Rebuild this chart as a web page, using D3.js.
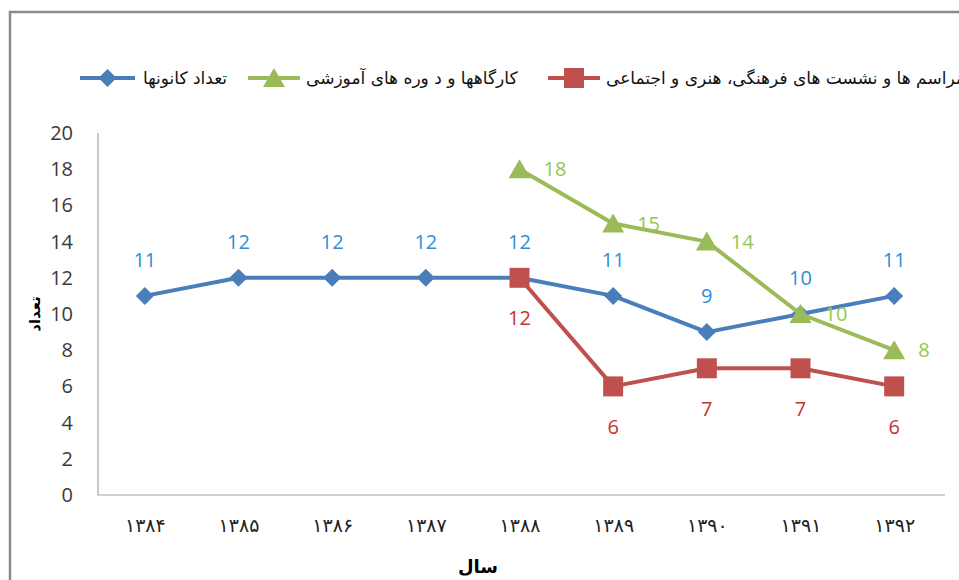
<!DOCTYPE html>
<html>
<head>
<meta charset="utf-8">
<script src="https://cdn.jsdelivr.net/npm/d3@7"></script>
<style>
  body { margin: 0; background: #fff; }
  svg { display: block; }
</style>
</head>
<body>
<svg id="chart" width="959" height="580"></svg>
<script>
  // سال ها و مقادیر
  var years = ["۱۳۸۴", "۱۳۸۵", "۱۳۸۶", "۱۳۸۷", "۱۳۸۸", "۱۳۸۹", "۱۳۹۰", "۱۳۹۱", "۱۳۹۲"];
  var centers = [11, 12, 12, 12, 12, 11, 9, 10, 11];
  var workshops = [null, null, null, null, 18, 15, 14, 10, 8];
  var ceremonies = [null, null, null, null, 12, 6, 7, 7, 6];
  var yTicks = [0, 2, 4, 6, 8, 10, 12, 14, 16, 18, 20];

  var seriesNames = [
    "تعداد کانونها",
    "کارگاهها و د وره های آموزشی",
    "مراسم ها و نشست های فرهنگی، هنری و اجتماعی"
  ];

  (function () {
    var series = [
      { name: seriesNames[0], values: centers, line: "#4A7EBB", label: "#2E8FD8", marker: "diamond", pos: "above" },
      { name: seriesNames[1], values: workshops, line: "#9BBB59", label: "#92C64E", marker: "triangle", pos: "right" },
      { name: seriesNames[2], values: ceremonies, line: "#C0504D", label: "#C9302C", marker: "square", pos: "below" }
    ];

    var svg = d3.select("#chart");
    var pLeft = 98, pRight = 941, pTop = 133, pBottom = 495;
    var faFont = "'DejaVu Sans', sans-serif";
    var numFont = "'Open Sans', 'Liberation Sans', sans-serif";

    // outer frame
    svg.append("rect")
      .attr("x", 10).attr("y", 12)
      .attr("width", 980).attr("height", 600)
      .attr("fill", "none")
      .attr("stroke", "#8a8a8a")
      .attr("stroke-width", 2.5);

    var x = d3.scalePoint().domain(years).range([pLeft, pRight]).padding(0.5);
    var y = d3.scaleLinear().domain([0, 20]).range([pBottom, pTop]);

    // plot area lines (left + bottom)
    svg.append("path")
      .attr("d", "M" + pLeft + "," + pTop + "V" + pBottom + "H" + (pRight + 4))
      .attr("fill", "none")
      .attr("stroke", "#a6a6a6")
      .attr("stroke-width", 1.2);

    // y axis labels
    var yAxis = d3.axisLeft(y).tickValues(yTicks).tickSize(0).tickPadding(25);
    var gy = svg.append("g").attr("transform", "translate(" + pLeft + ",0)").call(yAxis);
    gy.select(".domain").remove();
    gy.selectAll("text")
      .style("font-family", numFont)
      .style("font-size", "20px")
      .attr("fill", "#3a3a3a");

    // x axis labels
    var xAxis = d3.axisBottom(x).tickSize(0).tickPadding(24);
    var gx = svg.append("g").attr("transform", "translate(0," + pBottom + ")").call(xAxis);
    gx.select(".domain").remove();
    gx.selectAll("text")
      .style("font-family", faFont)
      .style("font-size", "19px")
      .attr("fill", "#222");

    // axis titles
    svg.append("text")
      .attr("x", 478).attr("y", 573)
      .attr("text-anchor", "middle")
      .style("font-family", faFont)
      .style("font-size", "18px")
      .style("font-weight", "bold")
      .text("سال");

    svg.append("text")
      .attr("transform", "translate(40,314) rotate(-90)")
      .attr("text-anchor", "middle")
      .style("font-family", faFont)
      .style("font-size", "15px")
      .style("font-weight", "bold")
      .text("تعداد");

    function markerPath(type, cx, cy) {
      if (type === "diamond") {
        var s = 9;
        return "M" + cx + "," + (cy - s) + "L" + (cx + s) + "," + cy + "L" + cx + "," + (cy + s) + "L" + (cx - s) + "," + cy + "Z";
      }
      if (type === "triangle") {
        return "M" + cx + "," + (cy - 10) + "L" + (cx + 11) + "," + (cy + 9) + "L" + (cx - 11) + "," + (cy + 9) + "Z";
      }
      return "M" + (cx - 10) + "," + (cy - 10) + "h20v20h-20Z";
    }

    var line = d3.line()
      .defined(function (d) { return d != null; })
      .x(function (d, i) { return x(years[i]); })
      .y(function (d) { return y(d); });

    series.forEach(function (s) {
      var g = svg.append("g");
      g.append("path")
        .attr("d", line(s.values))
        .attr("fill", "none")
        .attr("stroke", s.line)
        .attr("stroke-width", 4)
        .attr("stroke-linejoin", "round");

      var pts = s.values.map(function (v, i) { return { v: v, year: years[i] }; })
        .filter(function (d) { return d.v != null; });

      g.selectAll(".m").data(pts).enter().append("path")
        .attr("d", function (d) { return markerPath(s.marker, x(d.year), y(d.v)); })
        .attr("fill", s.line);

      s.pts = pts;
    });

    // data labels drawn on top
    series.forEach(function (s) {
      svg.append("g").selectAll("text").data(s.pts).enter().append("text")
        .attr("x", function (d) {
          return s.pos === "right" ? x(d.year) + 24 : x(d.year);
        })
        .attr("y", function (d) {
          if (s.pos === "above") return y(d.v) - 36;
          if (s.pos === "below") return y(d.v) + 40;
          return y(d.v);
        })
        .attr("dy", "0.36em")
        .attr("text-anchor", s.pos === "right" ? "start" : "middle")
        .style("font-family", numFont)
        .style("font-size", "20px")
        .attr("fill", s.label)
        .text(function (d) { return d.v; });
    });

    // legend
    var legendItems = [
      { s: series[0], x0: 80, x1: 135, tx: 143 },
      { s: series[1], x0: 248, x1: 300, tx: 306 },
      { s: series[2], x0: 548, x1: 600, tx: 606 }
    ];
    var ly = 78;
    legendItems.forEach(function (it) {
      var lg = svg.append("g");
      lg.append("line")
        .attr("x1", it.x0).attr("x2", it.x1)
        .attr("y1", ly).attr("y2", ly)
        .attr("stroke", it.s.line)
        .attr("stroke-width", 4);
      lg.append("path")
        .attr("d", markerPath(it.s.marker, (it.x0 + it.x1) / 2, ly))
        .attr("fill", it.s.line);
      lg.append("text")
        .attr("x", it.tx).attr("y", ly)
        .attr("dy", "0.35em")
        .style("font-family", faFont)
        .style("font-size", "17px")
        .attr("fill", "#111")
        .text(it.s.name);
    });
  })();
</script>
</body>
</html>
